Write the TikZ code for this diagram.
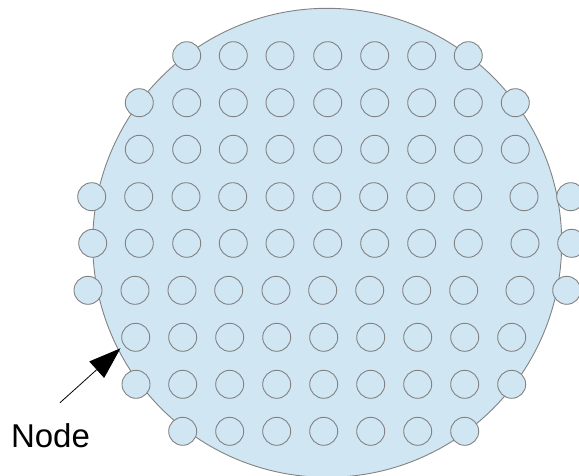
\documentclass[tikz,border=0pt]{standalone}
\usepackage{fontspec}
\setmainfont{Liberation Sans}
\usetikzlibrary{arrows.meta}
\definecolor{waferfill}{RGB}{208,230,243}
\definecolor{edgegray}{RGB}{130,130,130}
\begin{document}
\begin{tikzpicture}[x=1pt,y=-1pt,
  wafer/.style={circle,draw=edgegray,fill=waferfill,line width=0.9pt,minimum size=469pt,inner sep=0pt,outer sep=0pt},
  die/.style={circle,draw=edgegray,fill=waferfill,line width=0.9pt,minimum size=28pt,inner sep=0pt,outer sep=0pt},
  lbl/.style={font=\fontsize{33}{36}\selectfont,inner sep=0pt,anchor=base west},
  pointer/.style={draw=black,line width=0.8pt,-{Triangle[length=32pt,width=22pt]}}]
\clip (0,0) rectangle (579,475);
\node[wafer] (wafer) at (327.2,242.8) {};
% rows of dies
\foreach \x [count=\i] in {186.7,233.3,280,327.7,374.7,421.7,468.3}
  \node[die] (a\i) at (\x,55.7) {};
\foreach \x [count=\i] in {139.3,186.7,233.3,280,327.7,374.7,421.7,468.3,515.3}
  \node[die] (b\i) at (\x,102.7) {};
\foreach \x [count=\i] in {139.3,186.7,233.3,280,327.7,374.7,421.7,468.3,515.3}
  \node[die] (c\i) at (\x,149.3) {};
\foreach \x [count=\i] in {91.7,138.7,186,232.7,280,326.7,373.7,420.7,467.7,524,570.7}
  \node[die] (d\i) at (\x,196.7) {};
\foreach \x [count=\i] in {92.7,139.3,186.7,233.3,280,327.7,374.7,421.7,468.3,525,571.7}
  \node[die] (e\i) at (\x,243.3) {};
\foreach \x [count=\i] in {88,135,182,228.7,276,322.7,369.7,416.7,463.7,520,566.7}
  \node[die] (f\i) at (\x,290.3) {};
\foreach \x [count=\i] in {135.7,182.7,229.7,276.7,323.7,370.7,417.7,464.7,511.7}
  \node[die] (g\i) at (\x,337.3) {};
\foreach \x [count=\i] in {136,182.7,229.7,276.7,323.7,370.7,417.7,464.7,511.7}
  \node[die] (h\i) at (\x,384.3) {};
\foreach \x [count=\i] in {182.7,229.7,276.7,323.7,370.7,417.7,464.7}
  \node[die] (k\i) at (\x,431.3) {};
% label and pointer
\node[lbl] (label) at (10.8,447.3) {Node};
\coordinate (tail) at (60,402.7);
\coordinate (tip) at (120.5,348.3);
\draw[pointer] (tail) -- (tip);
\end{tikzpicture}
\end{document}
